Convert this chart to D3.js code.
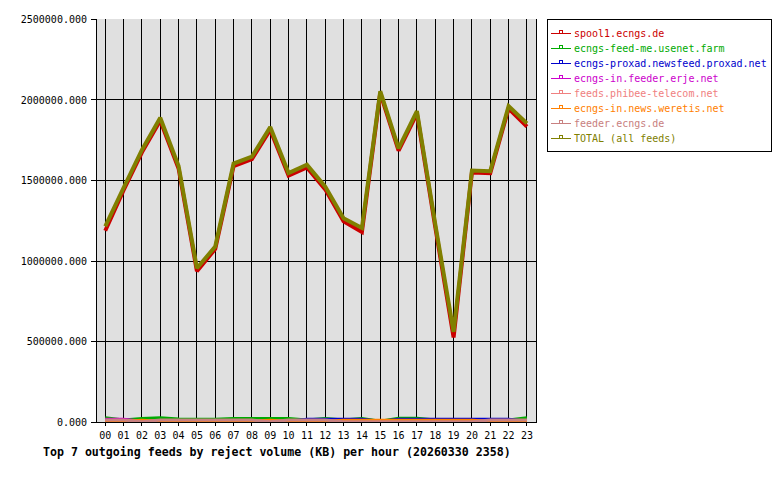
<!DOCTYPE html>
<html><head><meta charset="utf-8">
<script src="https://cdn.jsdelivr.net/npm/d3@7"></script>
<style>body{margin:0;background:#fff}svg{display:block}</style>
</head><body><svg id="c" width="780" height="480"></svg>
<script>
const hours = ["00","01","02","03","04","05","06","07","08","09","10","11","12","13","14","15","16","17","18","19","20","21","22","23"];
const yTickValues = [0, 500000, 1000000, 1500000, 2000000, 2500000];
const feedNames = ["spool1.ecngs.de","ecngs-feed-me.usenet.farm","ecngs-proxad.newsfeed.proxad.net","ecngs-in.feeder.erje.net","feeds.phibee-telecom.net","ecngs-in.news.weretis.net","feeder.ecngs.de","TOTAL (all feeds)"];
const feedColors = ["#cc0000","#00aa00","#0000cc","#cc00cc","#f08080","#ff8000","#c88080","#808000"];
const spool1  = [1188000,1440000,1675000,1872000,1575000,937000,1075000,1590000,1633000,1815000,1531000,1581000,1445000,1247000,1180000,2043000,1685000,1916000,1212000,525000,1550000,1546000,1947000,1835000];
const feedMe  = [26000,12000,22000,26000,18000,17000,17000,22000,22000,22000,22000,12000,22000,12000,22000,5000,23000,23000,12000,12000,12000,12000,12000,26000];
const proxad  = [5000,5000,5000,5000,5000,5000,5000,5000,5000,5000,5000,17000,17000,17000,17000,4000,17000,17000,17000,17000,17000,17000,17000,5000];
const erje    = [17000,17000,5000,5000,5000,5000,5000,5000,5000,5000,5000,5000,5000,5000,5000,3000,5000,5000,5000,5000,5000,5000,5000,5000];
const phibee  = [4000,4000,4000,4000,4000,4000,4000,4000,4000,4000,4000,4000,4000,4000,4000,4000,4000,4000,4000,4000,4000,4000,4000,4000];
const weretis = [5000,5000,11000,5000,5000,5000,5000,5000,5000,11000,5000,5000,5000,11000,11000,11000,11000,11000,11000,11000,11000,5000,5000,5000];
const feeder  = [12000,12000,2000,12000,12000,12000,12000,12000,12000,2000,12000,12000,12000,2000,2000,2000,2000,2000,2000,2000,2000,12000,12000,12000];
const total   = [1215000,1455000,1690000,1890000,1590000,955000,1090000,1605000,1648000,1832000,1546000,1598000,1462000,1265000,1205000,2055000,1700000,1931000,1230000,560000,1562000,1558000,1962000,1855000];
const titleText = "Top 7 outgoing feeds by reject volume (KB) per hour (20260330 2358)";

const seriesValues = [spool1, feedMe, proxad, erje, phibee, weretis, feeder, total];
const series = feedNames.map((name, i) => ({name, color: feedColors[i], values: seriesValues[i], main: (i === 0 || i === 7)}));

const FONT = "'DejaVu Sans Mono', monospace";
const svg = d3.select("#c");
const x = d3.scaleLinear().domain([-0.45, 23.55]).range([97, 537]);
const y = d3.scaleLinear().domain([0, 2500000]).range([422, 19.5]);
const crisp = v => Math.floor(v) + 0.5;

// plot background
svg.append("rect").attr("x", 97).attr("y", 19).attr("width", 440).attr("height", 403).attr("fill", "#e0e0e0");

// grid
const grid = svg.append("g").attr("stroke", "#000").attr("stroke-width", 1).attr("shape-rendering", "crispEdges");
grid.selectAll("line.v").data(hours).join("line").attr("class", "v")
  .attr("x1", (d, i) => crisp(x(i))).attr("x2", (d, i) => crisp(x(i)))
  .attr("y1", 19).attr("y2", 422);
grid.selectAll("line.h").data(yTickValues.filter(v => v > 0 && v < 2500000)).join("line").attr("class", "h")
  .attr("x1", 97).attr("x2", 537)
  .attr("y1", d => crisp(y(d))).attr("y2", d => crisp(y(d)));

// clip
svg.append("defs").append("clipPath").attr("id", "pc").append("rect")
  .attr("x", 97).attr("y", 19).attr("width", 440).attr("height", 403);

const line = d3.line().x((d, i) => x(i)).y(d => y(d));
svg.append("g").attr("clip-path", "url(#pc)").selectAll("path").data(series).join("path")
  .attr("d", d => line(d.values))
  .attr("fill", "none")
  .attr("stroke", d => d.color)
  .attr("stroke-width", d => d.main ? 4 : 3)
  .attr("stroke-linejoin", "miter")
  .attr("stroke-miterlimit", 2);

// axes
const ax = svg.append("g").attr("stroke", "#000").attr("stroke-width", 1).attr("shape-rendering", "crispEdges");
ax.append("line").attr("x1", 96.5).attr("x2", 96.5).attr("y1", 19).attr("y2", 423);
ax.append("line").attr("x1", 536.5).attr("x2", 536.5).attr("y1", 19).attr("y2", 423);
ax.append("line").attr("x1", 96).attr("x2", 537).attr("y1", 422.5).attr("y2", 422.5);
ax.selectAll("line.yt").data(yTickValues).join("line").attr("class", "yt")
  .attr("x1", 91).attr("x2", 97).attr("y1", d => crisp(y(d))).attr("y2", d => crisp(y(d)));
ax.selectAll("line.xt").data(hours).join("line").attr("class", "xt")
  .attr("x1", (d, i) => crisp(x(i))).attr("x2", (d, i) => crisp(x(i))).attr("y1", 422).attr("y2", 426);

svg.append("g").selectAll("text").data(yTickValues).join("text")
  .attr("x", 87).attr("y", d => y(d)).attr("dy", "0.35em")
  .attr("text-anchor", "end").attr("font-family", FONT).attr("font-size", 10).attr("fill", "#000")
  .text(d => d3.format(".3f")(d));

svg.append("g").selectAll("text").data(hours).join("text")
  .attr("x", (d, i) => x(i)).attr("y", 439)
  .attr("text-anchor", "middle").attr("font-family", FONT).attr("font-size", 10).attr("fill", "#000")
  .text(d => d);

svg.append("text").attr("x", 43).attr("y", 456)
  .attr("font-family", FONT).attr("font-size", 11.6).attr("font-weight", "bold").attr("fill", "#000")
  .text(titleText);

// legend
const lg = svg.append("g");
lg.append("rect").attr("x", 547.5).attr("y", 19.5).attr("width", 224).attr("height", 132)
  .attr("fill", "#fff").attr("stroke", "#000").attr("stroke-width", 1).attr("shape-rendering", "crispEdges");
const items = lg.selectAll("g.it").data(series).join("g").attr("class", "it")
  .attr("transform", (d, i) => `translate(0,${33.5 + 15 * i})`);
items.append("line").attr("x1", 551).attr("x2", 571).attr("y1", 0).attr("y2", 0)
  .attr("stroke", d => d.color).attr("stroke-width", 1).attr("shape-rendering", "crispEdges");
items.append("rect").attr("x", 559.5).attr("y", -3).attr("width", 3).attr("height", 3)
  .attr("fill", "none").attr("stroke", d => d.color).attr("stroke-width", 1).attr("shape-rendering", "crispEdges");
items.append("text").attr("x", 574).attr("y", 3.5)
  .attr("font-family", FONT).attr("font-size", 10).attr("fill", d => d.color)
  .text(d => d.name);
</script>
</body></html>
